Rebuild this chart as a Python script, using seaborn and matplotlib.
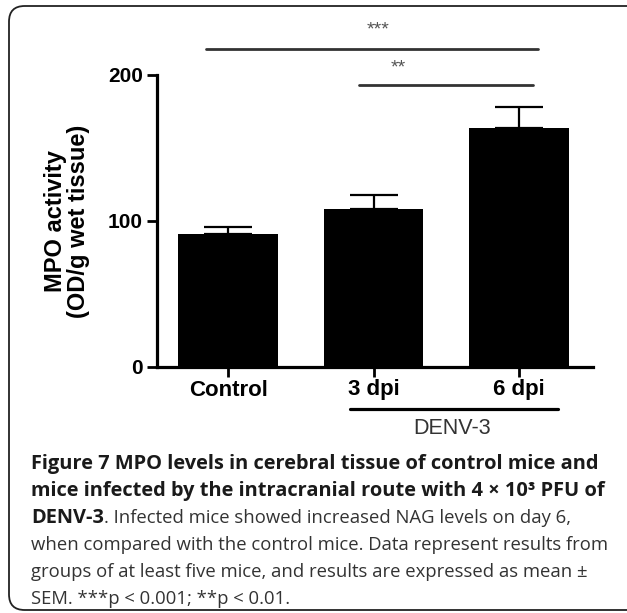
import matplotlib
matplotlib.use("Agg")
import matplotlib.pyplot as plt
import seaborn as sns
from matplotlib.patches import FancyBboxPatch

# values (mean, upper SEM)
groups = ["Control", "3 dpi", "6 dpi"]
mpo_mean = [91, 108, 164]
mpo_sem = [5, 10, 14]
y_ticks = [0, 100, 200]
y_label = "MPO activity\n(OD/g wet tissue)"
infected_label = "DENV-3"

caption_lines = [
    [("Figure 7 MPO levels in cerebral tissue of control mice and", True)],
    [("mice infected by the intracranial route with 4 \u00d7 10\u00b3 PFU of", True)],
    [("DENV-3", True), (". Infected mice showed increased NAG levels on day 6,", False)],
    [("when compared with the control mice. Data represent results from", False)],
    [("groups of at least five mice, and results are expressed as mean \u00b1", False)],
    [("SEM. ***p < 0.001; **p < 0.01.", False)],
]

sns.set_style("ticks")
plt.rcParams["font.family"] = ["Liberation Sans", "DejaVu Sans"]
plt.rcParams["text.color"] = "black"
plt.rcParams["axes.labelcolor"] = "black"

W, H = 627, 613
fig = plt.figure(figsize=(W / 100, H / 100), dpi=100)

# rounded frame around figure + caption
frame = FancyBboxPatch((9 / W, 3 / H), 1.1, 604 / H, transform=fig.transFigure,
                       boxstyle="round,pad=0,rounding_size=0.025", mutation_aspect=W / H,
                       fc="white", ec="#222222", lw=1.3, zorder=-5)
fig.patches.append(frame)

ax = fig.add_axes([157 / W, 1 - 367 / H, 436 / W, 292 / H])
ax.set_facecolor("none")
ax.set_zorder(2)
sns.barplot(x=groups, y=mpo_mean, color="black", width=0.687, saturation=1,
            errorbar=None, linewidth=0, ax=ax, zorder=3)
ax.errorbar(range(len(groups)), mpo_mean, yerr=[[0] * len(groups), mpo_sem],
            fmt="none", ecolor="black", elinewidth=1.6, capsize=17.5, capthick=1.6, zorder=2)

ax.set_xlim(-0.49, 2.51)
ax.set_ylim(0, 200)
ax.set_yticks(y_ticks)
sns.despine(ax=ax)
for side in ["left", "bottom"]:
    ax.spines[side].set_linewidth(2.3)
    ax.spines[side].set_color("black")
ax.tick_params(axis="both", length=7, width=2, colors="black")
ax.tick_params(axis="x", pad=2, labelsize=16)
ax.tick_params(axis="y", pad=3, labelsize=15)
plt.setp(ax.get_xticklabels(), fontweight="bold")
plt.setp(ax.get_yticklabels(), fontweight="bold")
ax.set_xlabel("")
ax.set_ylabel(y_label, fontsize=17, fontweight="bold", va="center", linespacing=1.0,
              color="black")
ax.yaxis.set_label_coords(-0.206, 0.5)

# significance brackets
ax.plot([-0.15, 2.13], [218, 218], color="#333333", lw=2, clip_on=False)
ax.text(1.03, 231, "***", ha="center", va="center", fontsize=14, color="#555555")
ax.plot([0.9, 2.1], [193, 193], color="#333333", lw=2, clip_on=False)
ax.text(1.17, 205, "**", ha="center", va="center", fontsize=14, color="#555555")

# infected group bar under the axis
ax.plot([0.84, 2.27], [-28.8, -28.8], color="black", lw=2.3, clip_on=False)
ax.text(1.54, -42, infected_label, ha="center", va="center", fontsize=15.5, color="#333333")

# caption
renderer = fig.canvas.get_renderer()
base_y = 469
for i, parts in enumerate(caption_lines):
    x = 31 / W
    y = 1 - (base_y + i * 27) / H
    for text, bold in parts:
        t = fig.text(x, y, text, fontsize=14.4 if bold else 13.3,
                     family=["Open Sans", "DejaVu Sans"],
                     fontweight="bold" if bold else "normal",
                     color="#1a1a1a" if bold else "#333333", va="baseline")
        x = t.get_window_extent(renderer).x1 / fig.bbox.width

fig.savefig("out.png", dpi=100)
